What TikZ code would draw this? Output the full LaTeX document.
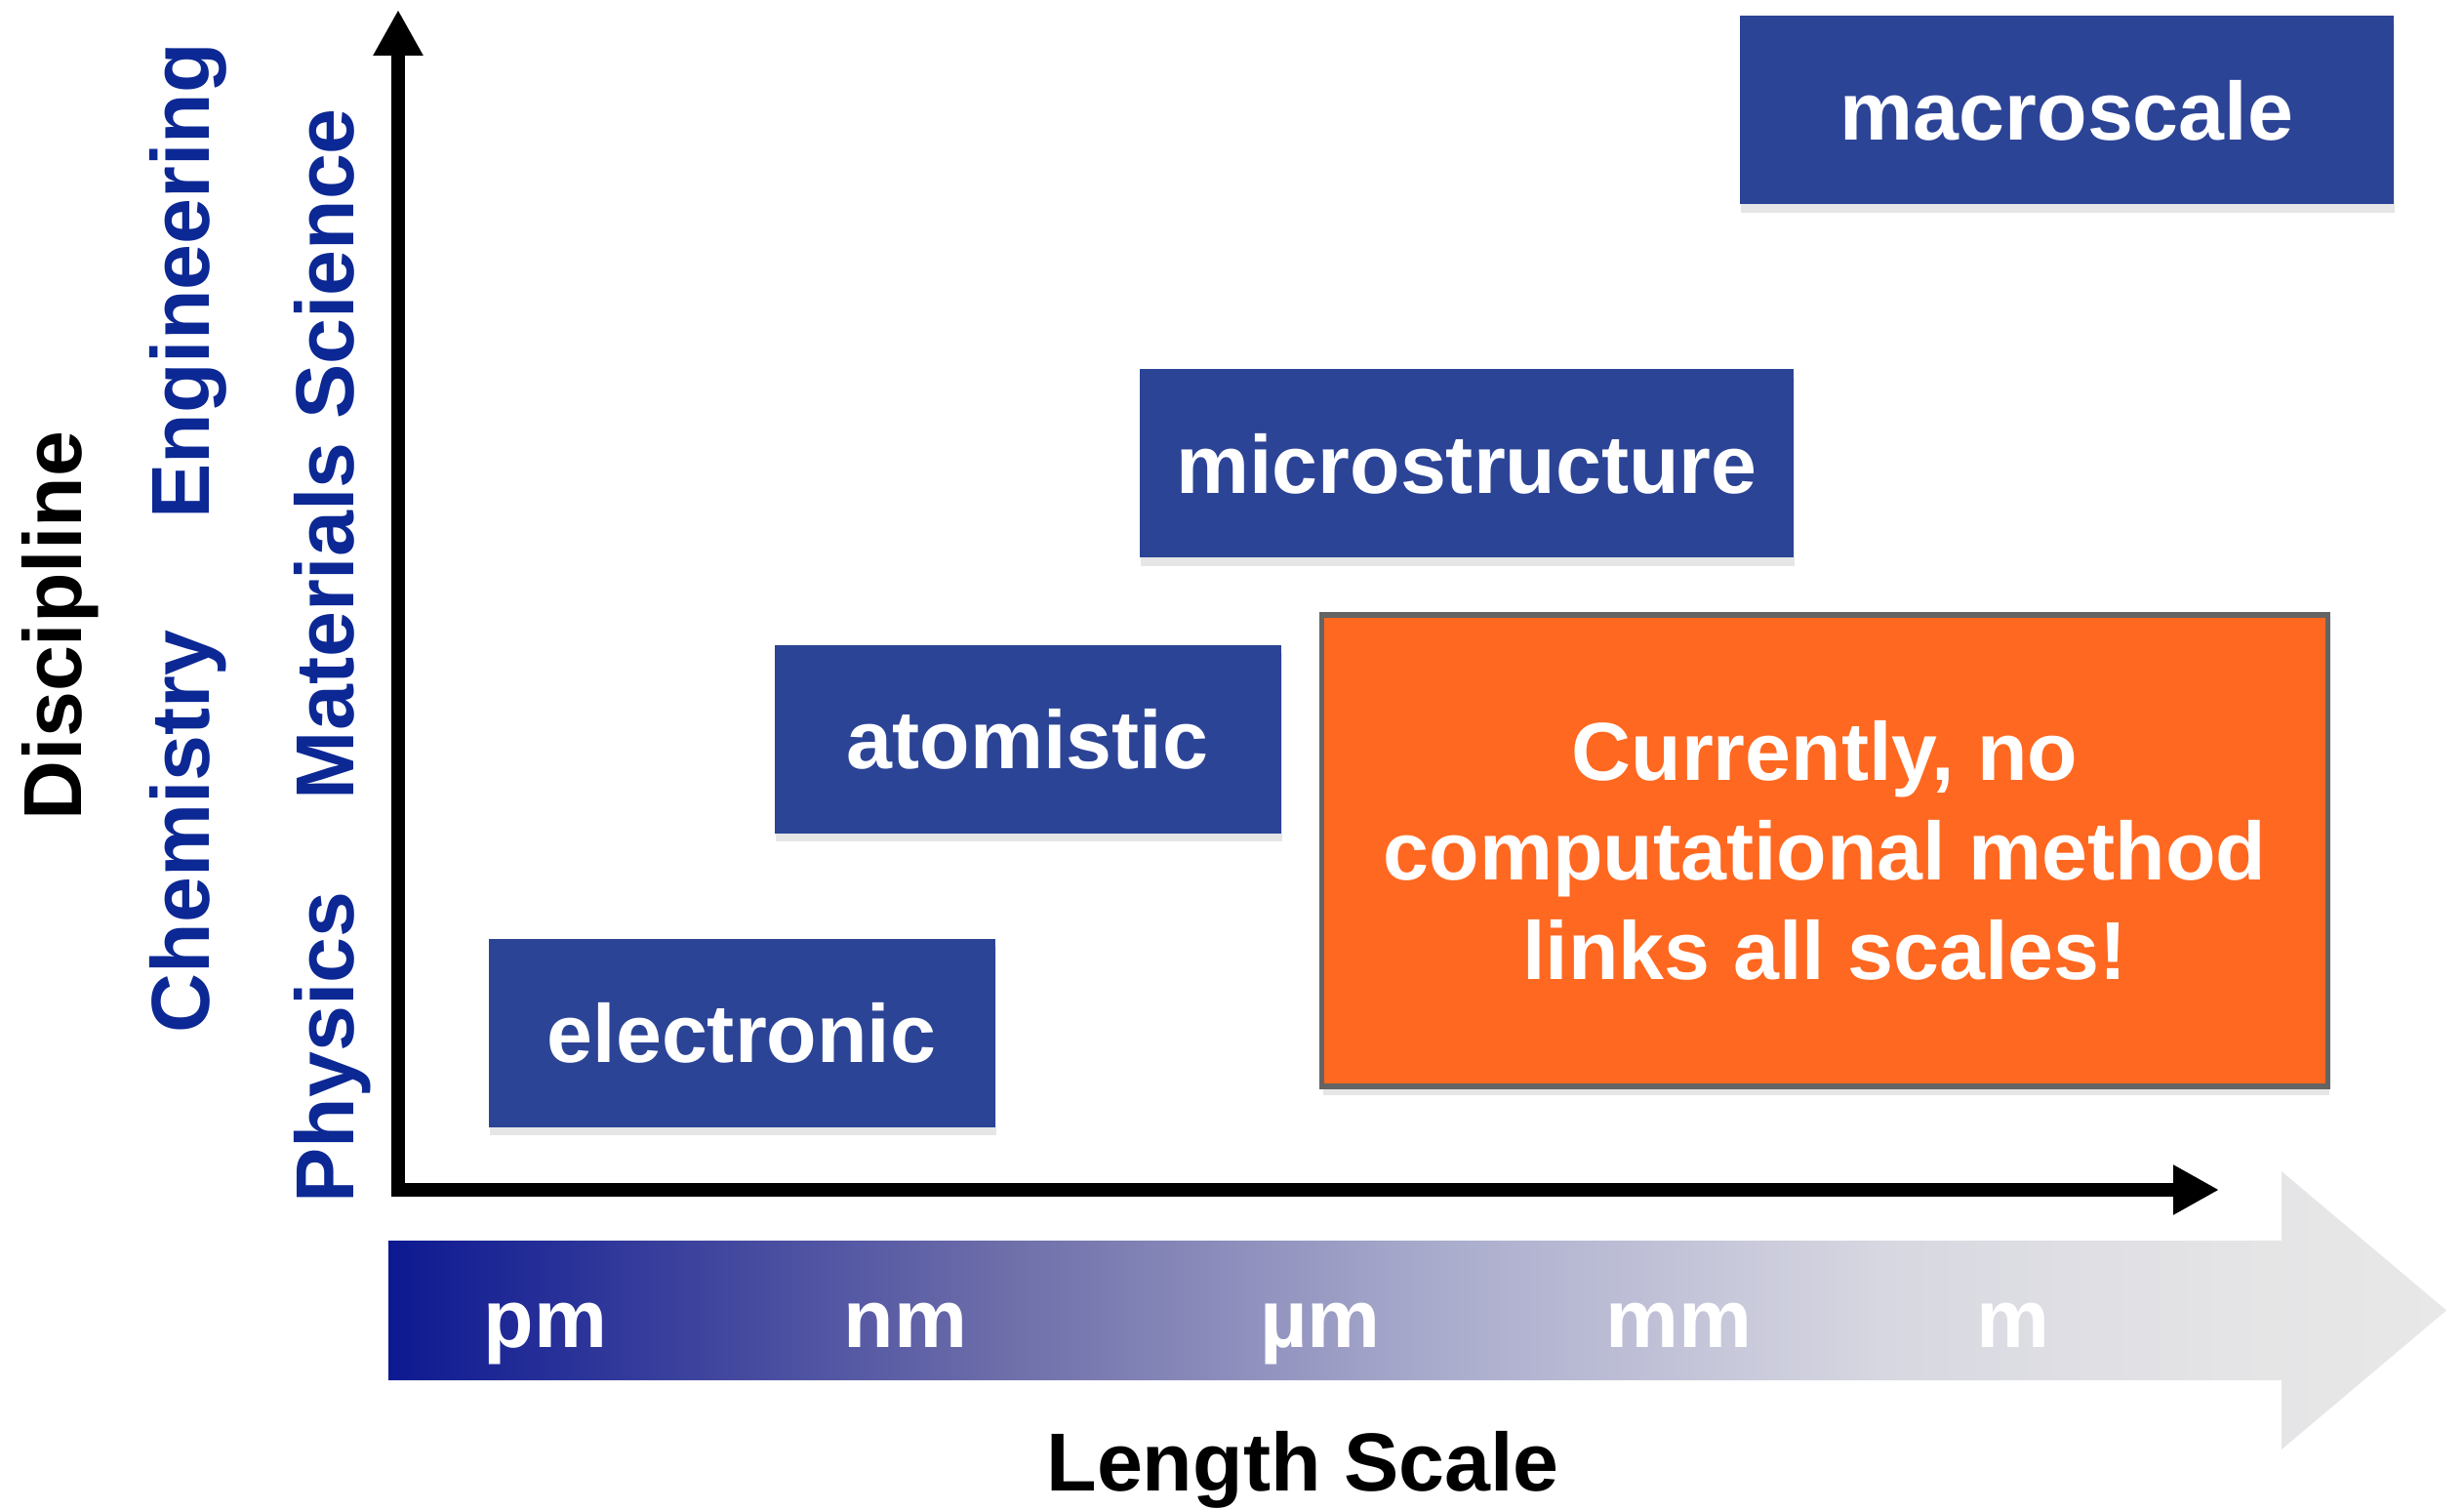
\documentclass[tikz,border=0pt]{standalone}
\usepackage{xcolor}
\usepackage{fontspec}
\setmainfont{Liberation Sans}
\usepackage{tikz}
\usetikzlibrary{arrows.meta,shadows,positioning}

\definecolor{scaleblue}{RGB}{44,68,150}
\definecolor{discblue}{RGB}{12,40,148}
\definecolor{warnorange}{RGB}{255,104,32}
\definecolor{warnedge}{RGB}{100,100,100}
\definecolor{barA}{RGB}{13,25,145}
\definecolor{barB}{RGB}{110,110,170}
\definecolor{barC}{RGB}{170,172,205}
\definecolor{barD}{RGB}{215,215,225}
\definecolor{barE}{RGB}{228,228,230}
\definecolor{barF}{RGB}{232,232,232}
\pgfdeclarehorizontalshading{lengthbar}{100bp}{color(0bp)=(barA); color(25bp)=(barA);
    color(40bp)=(barB); color(50.6bp)=(barC); color(61.3bp)=(barD); color(69.6bp)=(barE);
    color(75bp)=(barF); color(100bp)=(barF)}

\tikzset{
    scalebox/.style={fill=scaleblue, text=white, minimum width=5.19cm, minimum height=1.93cm,
        drop shadow={opacity=0.2, shadow xshift=0.4pt, shadow yshift=-2.5pt}},
    widebox/.style={scalebox, minimum width=6.70cm},
    discipline/.style={text=discblue, rotate=90, anchor=base},
    unit/.style={text=white, anchor=base},
    axis/.style={line width=4.2pt, line join=miter,
        {Triangle[width=0.48cm,length=0.47cm]}-{Triangle[width=0.48cm,length=0.47cm]}}
}

\begin{document}
\begin{tikzpicture}[every node/.style={font=\bfseries\fontsize{24}{29}\selectfont}]
        \useasboundingbox (0,0) rectangle (25.25,15.46);
        %% length scale bar
        \shade[shading=lengthbar] (3.98,2.75) -- (23.38,2.75) -- (23.38,3.46) -- (25.07,2.035)
            -- (23.38,0.61) -- (23.38,1.32) -- (3.98,1.32) -- cycle;
        \node[unit] (pm) at (5.59,1.66) {pm};
        \node[unit] (nm) at (9.28,1.66) {nm};
        \node[unit] (um) at (13.53,1.66) {µm};
        \node[unit] (mm) at (17.20,1.66) {mm};
        \node[unit] (m) at (20.63,1.66) {m};
        \node[anchor=base] (length) at (13.35,0.19) {Length Scale};

        \coordinate (origin) at (4.08,3.27);
        \coordinate (ytip) at (4.08,15.36);
        \coordinate (xtip) at (22.74,3.27);
        \draw[axis] (ytip) -- (origin) -- (xtip);

        \node[rotate=90, anchor=base] (discipline) at (0.84,9.05) {Discipline};
        \node[discipline] (engineering) at (2.14,12.58) {Engineering};
        \node[discipline] (chemistry) at (2.14,6.94) {Chemistry};
        \node[discipline] (matsci) at (3.62,10.81) {Materials Science};
        \node[discipline] (physics) at (3.62,4.73) {Physics};

        \node[scalebox] (electronic) at (7.60,4.88) {electronic};
        \node[scalebox] (atomistic) at (10.53,7.89) {atomistic};
        \node[widebox] (micro) at (15.03,10.71) {microstructure};
        \node[widebox] (macro) at (21.18,14.33) {macroscale};

        \node[fill=warnorange, draw=warnedge, line width=1.5pt, text=white, align=center,
            minimum width=10.31cm, minimum height=4.83cm,
            drop shadow={opacity=0.2, shadow xshift=0.4pt, shadow yshift=-2.5pt}]
            (nolink) at (18.70,6.745) {Currently, no\\computational method\\links all scales!};
    \end{tikzpicture}
\end{document}
